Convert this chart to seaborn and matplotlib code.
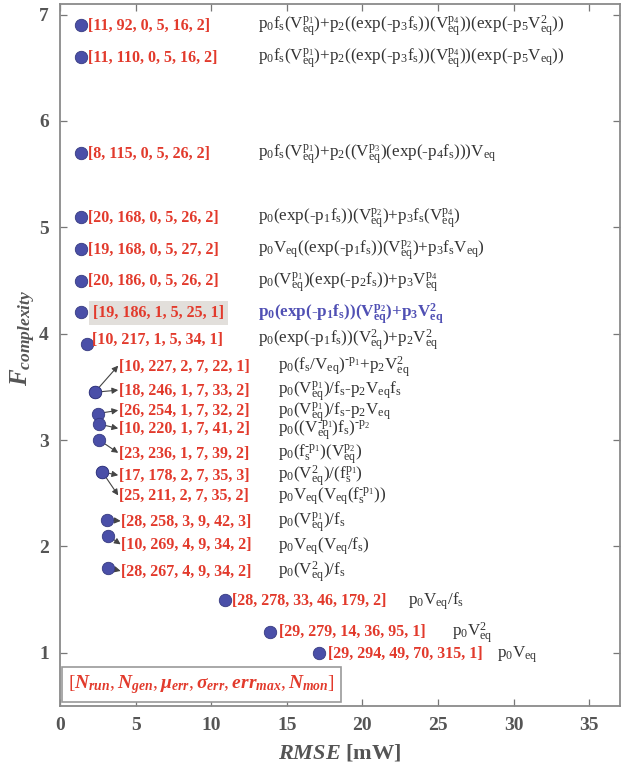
import matplotlib
matplotlib.use("Agg")
import matplotlib.pyplot as plt
import seaborn as sns
import pandas as pd

# ---------------- data ----------------
rmse = [1.4, 1.4, 1.4, 1.4, 1.4, 1.4, 1.4, 1.8,
        2.3, 2.3, 2.5, 2.6, 2.6, 2.8, 2.8, 3.1, 3.2, 3.2,
        10.9, 13.9, 17.1]
fcomp = [6.9, 6.6, 5.7, 5.1, 4.8, 4.5, 4.2, 3.9,
         3.45, 3.45, 3.25, 3.15, 3.0, 2.7, 2.7, 2.25, 2.1, 1.8,
         1.5, 1.2, 1.0]
stats = [[11, 92, 0, 5, 16, 2], [11, 110, 0, 5, 16, 2], [8, 115, 0, 5, 26, 2],
         [20, 168, 0, 5, 26, 2], [19, 168, 0, 5, 27, 2], [20, 186, 0, 5, 26, 2],
         [19, 186, 1, 5, 25, 1], [10, 217, 1, 5, 34, 1],
         [10, 227, 2, 7, 22, 1], [18, 246, 1, 7, 33, 2], [26, 254, 1, 7, 32, 2],
         [10, 220, 1, 7, 41, 2], [23, 236, 1, 7, 39, 2], [17, 178, 2, 7, 35, 3],
         [25, 211, 2, 7, 35, 2], [28, 258, 3, 9, 42, 3], [10, 269, 4, 9, 34, 2],
         [28, 267, 4, 9, 34, 2],
         [28, 278, 33, 46, 179, 2], [29, 279, 14, 36, 95, 1], [29, 294, 49, 70, 315, 1]]
equations = [
    r"p_0f_s(V_{eq}^{p_1})+p_2((exp(-p_3f_s))(V_{eq}^{p_4}))(exp(-p_5V_{eq}^2))",
    r"p_0f_s(V_{eq}^{p_1})+p_2((exp(-p_3f_s))(V_{eq}^{p_4}))(exp(-p_5V_{eq}))",
    r"p_0f_s(V_{eq}^{p_1})+p_2((V_{eq}^{p_3})(exp(-p_4f_s)))V_{eq}",
    r"p_0(exp(-p_1f_s))(V_{eq}^{p_2})+p_3f_s(V_{eq}^{p_4})",
    r"p_0V_{eq}((exp(-p_1f_s))(V_{eq}^{p_2})+p_3f_sV_{eq})",
    r"p_0(V_{eq}^{p_1})(exp(-p_2f_s))+p_3V_{eq}^{p_4}",
    r"p_0(exp(-p_1f_s))(V_{eq}^{p_2})+p_3V_{eq}^2",
    r"p_0(exp(-p_1f_s))(V_{eq}^2)+p_2V_{eq}^2",
    r"p_0(f_s/V_{eq})^{-p_1}+p_2V_{eq}^2",
    r"p_0(V_{eq}^{p_1})/f_s-p_2V_{eq}f_s",
    r"p_0(V_{eq}^{p_1})/f_s-p_2V_{eq}",
    r"p_0((V_{eq}^{-p_1})f_s)^{-p_2}",
    r"p_0(f_s^{-p_1})(V_{eq}^{p_2})",
    r"p_0(V_{eq}^2)/(f_s^{p_1})",
    r"p_0V_{eq}(V_{eq}(f_s^{-p_1}))",
    r"p_0(V_{eq}^{p_1})/f_s",
    r"p_0V_{eq}(V_{eq}/f_s)",
    r"p_0(V_{eq}^2)/f_s",
    r"p_0V_{eq}/f_s",
    r"p_0V_{eq}^2",
    r"p_0V_{eq}",
]
best_index = 6
legend_text = r"$[N_{run}, N_{gen}, \mu_{err}, \sigma_{err}, err_{max}, N_{mon}]$"
x_ticks = [0, 5, 10, 15, 20, 25, 30, 35]
y_ticks = [1, 2, 3, 4, 5, 6, 7]

# ---------------- layout (label placement) ----------------
# (label x, label y, equation x, use arrow)
layout = [
    (1.82, 6.9, 13.1, False), (1.82, 6.6, 13.1, False), (1.82, 5.7, 13.1, False),
    (1.82, 5.1, 13.1, False), (1.82, 4.8, 13.1, False), (1.82, 4.5, 13.1, False),
    (2.2, 4.2, 13.1, False), (2.1, 3.95, 13.1, False),
    (3.9, 3.70, 14.4, True), (3.9, 3.47, 14.4, True), (3.9, 3.28, 14.4, True),
    (3.9, 3.11, 14.4, True), (3.9, 2.88, 14.4, True), (3.9, 2.67, 14.4, True),
    (3.9, 2.48, 14.4, True), (4.06, 2.24, 14.4, True), (4.06, 2.02, 14.4, True),
    (4.06, 1.77, 14.4, True),
    (11.4, 1.5, 23.0, False), (14.5, 1.2, 25.9, False), (17.7, 1.0, 28.9, False),
]


def tight(s):
    # operators drawn without extra spacing, hyphen-like minus as in the reference
    return s.replace("+", "{+}").replace("-", r"{\text{-}}")


# ---------------- style ----------------
sns.set_style("ticks")
plt.rcParams["font.family"] = ["Liberation Serif", "DejaVu Serif"]
plt.rcParams["mathtext.fontset"] = "custom"
plt.rcParams["mathtext.rm"] = "Liberation Serif"
plt.rcParams["mathtext.it"] = "Liberation Serif:italic:bold"
plt.rcParams["mathtext.bf"] = "Liberation Serif:bold"

RED = "#e23a2c"
BLUE = "#4a4fa8"
GRAY = "#555555"
EQ = "#333333"

fig = plt.figure(figsize=(6.21, 7.67), dpi=100)
ax = fig.add_axes([0.0966, 0.0795, 0.901, 0.9153])

df = pd.DataFrame({"RMSE": rmse, "F": fcomp})
sns.scatterplot(data=df, x="RMSE", y="F", ax=ax, s=80, color=BLUE,
                edgecolor="#363a80", linewidth=0.6, zorder=5, legend=False)

ax.set_xlim(0, 37)
ax.set_ylim(0.5, 7.1)
ax.set_xticks(x_ticks)
ax.set_yticks(y_ticks)
ax.tick_params(direction="in", length=5, width=0.9, color="#777777",
               top=True, right=True, labelsize=14, labelcolor=GRAY, pad=8)
for lab in ax.get_xticklabels() + ax.get_yticklabels():
    lab.set_fontweight("bold")
for sp in ax.spines.values():
    sp.set_visible(True)
    sp.set_color("#8a8a8a")
    sp.set_linewidth(1.3)

dy = 0.045
for i, (st, eq, (lx, ly, ex, arrow)) in enumerate(zip(stats, equations, layout)):
    label = "[" + ", ".join(str(v) for v in st) + "]"
    kw = {}
    if i == best_index:
        kw["bbox"] = dict(boxstyle="square,pad=0.25", facecolor="#e2dfdb", edgecolor="none")
    ax.text(lx, ly - dy, label, color=RED, fontsize=11.5, fontweight="bold",
            ha="left", va="baseline", zorder=6, **kw)
    if i == best_index:
        ax.text(ex, ly - dy, r"$\mathbf{" + tight(eq) + "}$", color="#5050b4", fontsize=12.3,
                ha="left", va="baseline", zorder=6)
    else:
        ax.text(ex, ly - dy, r"$\mathrm{" + tight(eq) + "}$", color=EQ, fontsize=12.3,
                ha="left", va="baseline", zorder=6)
    if arrow:
        ax.annotate("", xy=(lx - 0.05, ly), xytext=(rmse[i], fcomp[i]),
                    arrowprops=dict(arrowstyle="-|>", color="#444444", lw=0.8,
                                    mutation_scale=9, shrinkA=0, shrinkB=0),
                    zorder=4)

ax.text(0.55, 0.70, legend_text, color=RED, fontsize=14, ha="left", va="center",
        zorder=6,
        bbox=dict(boxstyle="square,pad=0.3", facecolor="white", edgecolor="#9a9a9a",
                  linewidth=1.2))

ax.set_xlabel(r"$RMSE$ [mW]", fontsize=16, fontweight="bold", color=GRAY, labelpad=6)
ax.set_ylabel(r"$F_{complexity}$", fontsize=18, color=GRAY)
ax.yaxis.set_label_coords(-0.04, 0.525)

fig.savefig("out.png", dpi=100)
